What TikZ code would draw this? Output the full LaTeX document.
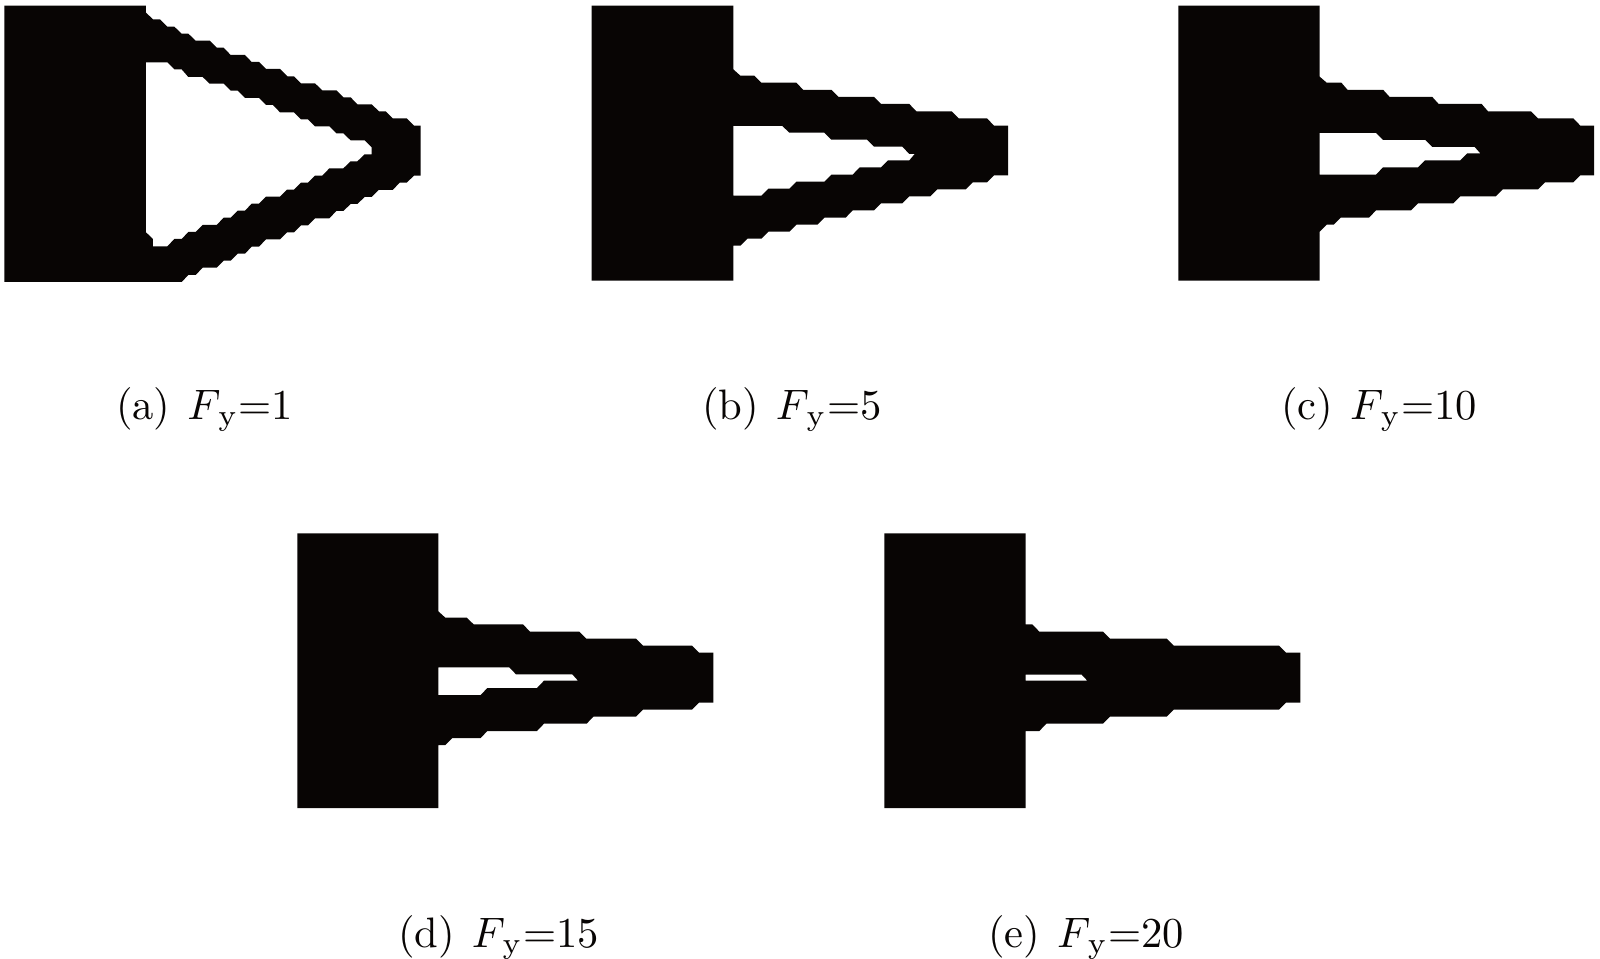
\documentclass[tikz,border=0pt]{standalone}
\definecolor{ink}{RGB}{8,5,4}
\newcommand{\capfont}[1]{\scalebox{4.26}{#1}}
\newcommand{\capforce}[1]{$F_{\kern0.8pt\mathrm{y}}$=#1}
\tikzset{
  solidshape/.style={fill=ink,draw=none,even odd rule},
  caplabel/.style={anchor=base west,inner sep=0pt,outer sep=0pt,text=ink},
  zoomed/.style={x=0.33333pt,y=-0.33333pt}
}
\begin{document}
\begin{tikzpicture}[x=1pt,y=-1pt]
\useasboundingbox (0,0) rectangle (1600,958);
% (a)
\begin{scope}[shift={(0,0)},zoomed]
\fill[solidshape] (13,17) -- (438,17) -- (438,38) -- (459,58) -- (480,58) -- (502,80) -- (523,80) -- (545,101) -- (565,101) -- (587,122) -- (629,122) -- (650,143) -- (671,143) -- (692,165) -- (735,165) -- (755,186) -- (777,186) -- (798,207) -- (840,207) -- (862,229) -- (882,229) -- (903,250) -- (945,250) -- (967,271) -- (1009,271) -- (1030,292) -- (1052,292) -- (1072,313) -- (1115,313) -- (1137,334) -- (1157,334) -- (1178,355) -- (1220,355) -- (1242,377) -- (1262,377) -- (1262,527) -- (1242,527) -- (1220,548) -- (1199,548) -- (1178,570) -- (1136,570) -- (1115,591) -- (1094,591) -- (1072,612) -- (1052,612) -- (1030,633) -- (1009,633) -- (988,655) -- (945,655) -- (924,676) -- (903,676) -- (882,697) -- (861,697) -- (840,718) -- (798,718) -- (777,740) -- (755,740) -- (735,761) -- (713,761) -- (692,782) -- (671,782) -- (650,803) -- (608,803) -- (587,825) -- (565,825) -- (545,846) -- (13,846) -- cycle
(438,187) -- (502,187) -- (523,208) -- (545,208) -- (565,231) -- (608,231) -- (629,251) -- (671,251) -- (692,272) -- (713,272) -- (735,294) -- (777,294) -- (798,315) -- (819,315) -- (840,337) -- (882,337) -- (903,358) -- (924,358) -- (945,379) -- (988,379) -- (1009,400) -- (1030,400) -- (1052,421) -- (1094,421) -- (1115,442) -- (1115,463) -- (1094,463) -- (1072,484) -- (1052,484) -- (1030,505) -- (988,505) -- (967,527) -- (945,527) -- (924,548) -- (903,548) -- (882,569) -- (861,569) -- (840,590) -- (798,590) -- (777,611) -- (755,611) -- (735,632) -- (713,632) -- (692,653) -- (671,653) -- (650,675) -- (608,675) -- (587,696) -- (565,696) -- (545,717) -- (523,717) -- (502,739) -- (459,739) -- (459,717) -- (438,697) -- cycle;
\end{scope}
% (b)
\begin{scope}[shift={(720,50)},zoomed]
\fill[solidshape] (-385,-133) -- (40,-133) -- (40,58) -- (61,77) -- (103,77) -- (124,98) -- (229,98) -- (250,120) -- (335,120) -- (356,141) -- (462,141) -- (483,162) -- (568,162) -- (589,184) -- (695,184) -- (716,205) -- (801,205) -- (822,227) -- (864,227) -- (864,376) -- (822,376) -- (801,397) -- (758,397) -- (737,418) -- (652,418) -- (631,439) -- (568,439) -- (547,460) -- (483,460) -- (462,481) -- (398,481) -- (377,503) -- (313,503) -- (292,524) -- (229,524) -- (208,545) -- (145,545) -- (124,566) -- (82,566) -- (61,587) -- (40,587) -- (40,692) -- (-385,692) -- cycle
(40,228) -- (187,228) -- (208,248) -- (313,248) -- (334,269) -- (441,269) -- (462,290) -- (547,290) -- (568,312) -- (584,312) -- (568,331) -- (504,331) -- (483,352) -- (419,352) -- (398,374) -- (334,374) -- (313,395) -- (229,395) -- (208,416) -- (145,416) -- (124,437) -- (40,437) -- cycle;
\end{scope}
% (c)
\begin{scope}[shift={(1300,50)},zoomed]
\fill[solidshape] (-365,-133) -- (59,-133) -- (59,80) -- (80,98) -- (124,98) -- (143,120) -- (250,120) -- (269,141) -- (397,141) -- (416,162) -- (545,162) -- (564,184) -- (693,184) -- (714,205) -- (820,205) -- (841,227) -- (882,227) -- (882,376) -- (841,376) -- (820,397) -- (735,397) -- (714,418) -- (608,418) -- (587,439) -- (481,439) -- (460,460) -- (354,460) -- (333,481) -- (228,481) -- (207,503) -- (122,503) -- (101,524) -- (80,524) -- (59,545) -- (59,692) -- (-365,692) -- cycle
(59,249) -- (228,249) -- (249,270) -- (376,270) -- (397,291) -- (524,291) -- (541,310) -- (502,310) -- (481,331) -- (375,331) -- (354,352) -- (249,352) -- (228,374) -- (59,374) -- cycle;
\end{scope}
% (d)
\begin{scope}[shift={(430,590)},zoomed]
\fill[solidshape] (-398,-170) -- (25,-170) -- (25,64) -- (46,83) -- (110,83) -- (131,103) -- (279,103) -- (300,125) -- (448,125) -- (469,146) -- (618,146) -- (639,167) -- (786,167) -- (807,188) -- (850,188) -- (850,338) -- (807,338) -- (786,359) -- (639,359) -- (618,380) -- (490,380) -- (470,401) -- (342,401) -- (321,423) -- (172,423) -- (152,444) -- (67,444) -- (46,465) -- (25,465) -- (25,654) -- (-398,654) -- cycle
(25,232) -- (238,232) -- (258,253) -- (427,253) -- (444,272) -- (342,272) -- (321,294) -- (172,294) -- (152,315) -- (25,315) -- cycle;
\end{scope}
% (e)
\begin{scope}[shift={(1010,590)},zoomed]
\fill[solidshape] (-377,-170) -- (47,-170) -- (47,103) -- (67,103) -- (88,125) -- (279,125) -- (300,146) -- (470,146) -- (491,167) -- (807,167) -- (828,188) -- (871,188) -- (871,338) -- (828,338) -- (807,359) -- (491,359) -- (470,380) -- (300,380) -- (279,401) -- (109,401) -- (88,423) -- (47,423) -- (47,654) -- (-377,654) -- cycle
(47,254) -- (215,254) -- (232,272) -- (47,272) -- cycle;
\end{scope}
% captions
\node[caplabel] (capa) at (116,419) {\capfont{(a)\hspace{4pt}\capforce{1}}};
\node[caplabel] (capb) at (702,419) {\capfont{(b)\hspace{4pt}\capforce{5}}};
\node[caplabel] (capc) at (1281,419) {\capfont{(c)\hspace{4pt}\capforce{10}}};
\node[caplabel] (capd) at (398,947) {\capfont{(d)\hspace{4pt}\capforce{15}}};
\node[caplabel] (cape) at (988,947) {\capfont{(e)\hspace{4pt}\capforce{20}}};
\end{tikzpicture}
\end{document}
